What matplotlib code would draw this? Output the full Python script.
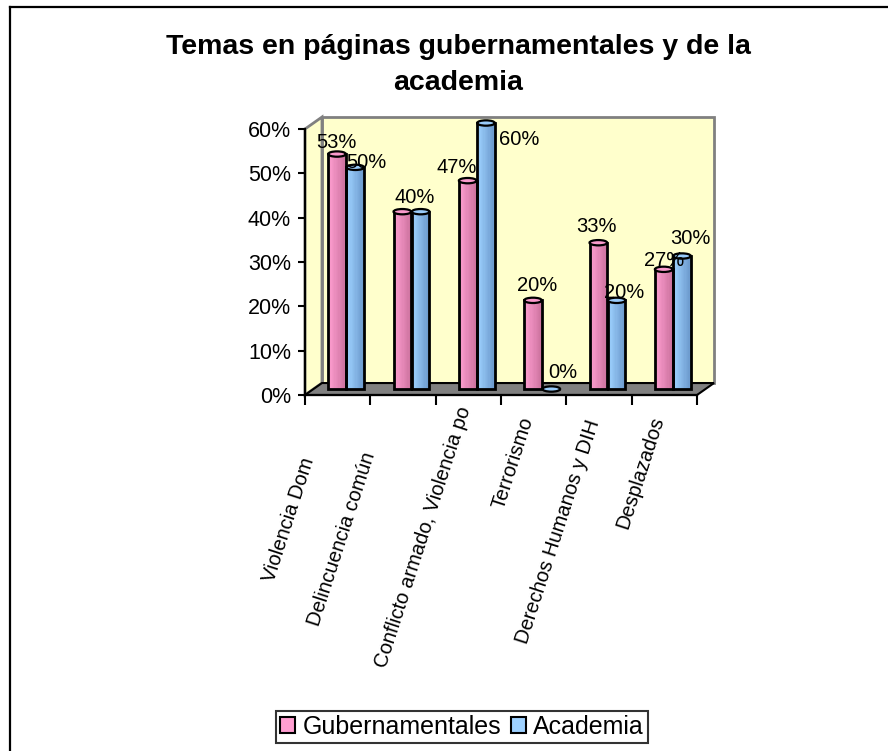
"""
Recreates the Excel column chart 'Temas en paginas gubernamentales y de la academia'.
"""

import numpy as np
import matplotlib
matplotlib.use('Agg')
import matplotlib.pyplot as plt
from matplotlib.patches import Rectangle, Polygon, Ellipse, Patch
from matplotlib.lines import Line2D
from matplotlib.ticker import PercentFormatter
from matplotlib.transforms import ScaledTranslation

plt.rcParams['font.family'] = ['Liberation Sans', 'DejaVu Sans']

# Data
categories = ['Violencia Dom', 'Delincuencia común', 'Conflicto armado, Violencia po',
              'Terrorismo', 'Derechos Humanos y DIH', 'Desplazados']
gubernamentales = [0.53, 0.40, 0.47, 0.20, 0.33, 0.27]
academia = [0.50, 0.40, 0.60, 0.00, 0.20, 0.30]
series_names = ['Gubernamentales', 'Academia']

# Styling
pink_light, pink_dark = np.array([1.0, 0.62, 0.82]), np.array([0.80, 0.45, 0.62])
blue_light, blue_dark = np.array([0.62, 0.82, 1.0]), np.array([0.42, 0.60, 0.80])
wall_color = '#FFFFCC'
floor_color = '#808080'
depth_x, depth_y = 0.26, 0.027   # 3D depth of the walls, in data units
bar_w = 0.27
# label nudges (pixels) for the data labels, per category
label_off_g = [(-1, 12), (12, 14), (-11, 13), (4, 15), (-2, 16), (0, 9)]
label_off_a = [(11, 5), (-7, 14), (33, -16), (12, 17), (7, 8), (8, 18)]
# tick label nudges (pixels) for the rotated category names
xlabel_off = [(-29, -41), (-33, -35), (-3, 10), (-6, 0), (-5, -3), (-6, 0)]

fig = plt.figure(figsize=(8.88, 7.51), dpi=100)
ax = fig.add_axes([305 / 888, 1 - 395 / 751, 392 / 888, 266 / 751])
ax.set_xlim(0, len(categories))
ax.set_ylim(0, 0.6)
ax.patch.set_visible(False)

# Walls and floor
ax.add_patch(Rectangle((depth_x, depth_y), len(categories), 0.6, facecolor=wall_color,
                       edgecolor='#808080', linewidth=2, clip_on=False, zorder=0))
ax.add_patch(Polygon([(0, 0), (depth_x, depth_y), (depth_x, 0.6 + depth_y), (0, 0.6)],
                     closed=True, facecolor=wall_color, edgecolor='#808080',
                     linewidth=2, clip_on=False, zorder=0))
n = len(categories)
ax.add_patch(Polygon([(0, 0), (n, 0), (n + depth_x, depth_y), (depth_x, depth_y)],
                     closed=True, facecolor=floor_color, edgecolor='black',
                     linewidth=1.5, clip_on=False, zorder=1))


def draw_cylinder(xc, value, light, dark):
    x0 = xc - bar_w / 2
    y0 = depth_y / 2
    strips = 14
    sw = bar_w / strips
    for k in range(strips):
        t = k / (strips - 1)
        c = light * (1 - t) + dark * t
        if k < 3:
            c = light * 0.85 + dark * 0.15
        ax.add_patch(Rectangle((x0 + k * sw, y0), sw * 1.02, value, facecolor=c,
                               edgecolor='none', clip_on=False, zorder=3))
    ax.add_patch(Rectangle((x0, y0), bar_w, value, facecolor='none', edgecolor='black',
                           linewidth=2, clip_on=False, zorder=4))
    ax.add_patch(Ellipse((xc, y0 + value), bar_w, 0.012, facecolor=light * 0.9 + dark * 0.1,
                         edgecolor='black', linewidth=1.6, clip_on=False, zorder=5))


placed = set()
for i in range(n):
    xg = i + 0.5 - 0.14 + depth_x / 2
    xa = i + 0.5 + 0.14 + depth_x / 2
    draw_cylinder(xg, gubernamentales[i], pink_light, pink_dark)
    draw_cylinder(xa, academia[i], blue_light, blue_dark)
    for xc, v, off in [(xg, gubernamentales[i], label_off_g[i]),
                       (xa, academia[i], label_off_a[i])]:
        px, py = ax.transData.transform((xc, v + depth_y / 2))
        key = (f'{v:.0%}', round(px + off[0]), round(py + off[1]))
        if key in placed:
            continue  # identical labels sit on top of each other
        placed.add(key)
        ax.annotate(f'{v:.0%}', xy=(xc, v + depth_y / 2), xytext=off,
                    textcoords='offset pixels', ha='center', va='center',
                    fontsize=14.5, color='black', zorder=6, annotation_clip=False)

# Axes styling
for side in ['top', 'right']:
    ax.spines[side].set_visible(False)
for side in ['left', 'bottom']:
    ax.spines[side].set_linewidth(1.6)
    ax.spines[side].set_zorder(2)

ax.set_yticks(np.arange(0, 0.61, 0.1))
ax.yaxis.set_major_formatter(PercentFormatter(1.0, decimals=0))
ax.tick_params(axis='y', direction='out', length=5, width=1.5, labelsize=15.5, pad=5)

ax.set_xticks(np.arange(0, n + 1))
ax.set_xticklabels([])
ax.tick_params(axis='x', which='major', direction='out', length=7, width=1.5)
ax.set_xticks(np.arange(n) + 0.5, minor=True)
ax.set_xticklabels(categories, minor=True, rotation=72, ha='right', va='center',
                   rotation_mode='anchor', fontsize=14.5)
ax.tick_params(axis='x', which='minor', length=0, pad=16)
for lab, (dx, dy) in zip(ax.get_xticklabels(minor=True), xlabel_off):
    lab.set_transform(lab.get_transform() + ScaledTranslation(dx / 100, dy / 100, fig.dpi_scale_trans))

# Title
fig.text(458 / 888, 1 - 47 / 751, 'Temas en páginas gubernamentales y de la',
         ha='center', va='center', fontsize=20.5, fontweight='bold')
fig.text(458 / 888, 1 - 83 / 751, 'academia',
         ha='center', va='center', fontsize=20.5, fontweight='bold')

# Legend
handles = [Patch(facecolor=pink_light, edgecolor='black', linewidth=1.5),
           Patch(facecolor=blue_light, edgecolor='black', linewidth=1.5)]
leg = fig.legend(handles, series_names, loc='center', bbox_to_anchor=(462 / 888, 1 - 727 / 751),
                 ncol=2, fontsize=18, frameon=True, fancybox=False, handlelength=0.6,
                 handleheight=0.6, handletextpad=0.3, columnspacing=0.4, borderpad=0.15,
                 borderaxespad=0)
leg.get_frame().set_edgecolor('black')
leg.get_frame().set_linewidth(1.5)

# Outer chart border (left and top only are visible)
fig.add_artist(Line2D([10 / 888, 10 / 888], [0, 1 - 7 / 751], transform=fig.transFigure,
                      color='black', linewidth=1.6))
fig.add_artist(Line2D([10 / 888, 1], [1 - 7 / 751, 1 - 7 / 751], transform=fig.transFigure,
                      color='black', linewidth=1.6))

fig.savefig('out.png', dpi=100)
